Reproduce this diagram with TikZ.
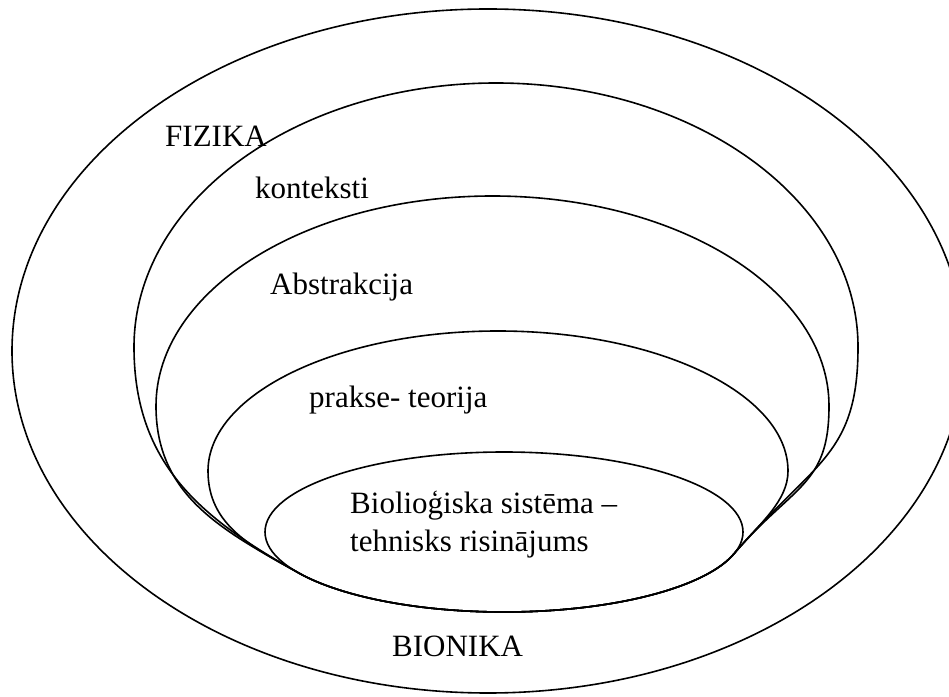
\documentclass[tikz,border=0pt]{standalone}
\usepackage{fontspec}
\setmainfont{Liberation Serif}
\begin{document}
\begin{tikzpicture}[x=1pt,y=1pt,
  ring/.style={draw=black,line width=1.6pt},
  lbl/.style={inner sep=0pt,anchor=base west,font=\rmfamily\fontsize{31}{37}\selectfont}]
\useasboundingbox (0,0) rectangle (949,696);
\clip (0,0) rectangle (949,696);

% outermost field
\draw[ring] (488,345) ellipse[x radius=476,y radius=342];

% innermost ellipse and the points where the nested shapes merge into it
\coordinate (c0) at (504,164);
\draw[ring] (c0) ellipse[x radius=239,y radius=80];
\coordinate (tl) at ([shift={(c0)}]212:239 and 80);
\coordinate (tr) at ([shift={(c0)}]344:239 and 80);

% nested egg shapes sharing the lower arc of the inner ellipse
\draw[ring] (tl) .. controls (205.3,175.2) and (134,229) .. (134,349)
  arc[start angle=180,end angle=0,x radius=362,y radius=264]
  .. controls (858,239) and (812.8,234.3) .. (tr)
  arc[start angle=344,end angle=212,x radius=239,y radius=80] -- cycle;

\draw[ring] (tl) .. controls (222.7,165.4) and (156,200) .. (156,290)
  arc[start angle=180,end angle=0,x radius=336.5,y radius=210]
  .. controls (829,210) and (793,211.2) .. (tr)
  arc[start angle=344,end angle=212,x radius=239,y radius=80] -- cycle;

\draw[ring] (tl) .. controls (253.3,148.4) and (208,170) .. (208,225)
  arc[start angle=180,end angle=0,x radius=290,y radius=140]
  .. controls (788,195) and (760.1,172.8) .. (tr)
  arc[start angle=344,end angle=212,x radius=239,y radius=80] -- cycle;

% labels
\node[lbl] (fizika) at (165,549) {FIZIKA};
\node[lbl] (konteksti) at (255,497) {konteksti};
\node[lbl] (abstr) at (270,401) {Abstrakcija};
\node[lbl] (prakse) at (309,288) {prakse- teorija};
\node[lbl] (bio1) at (350,183) {Biolioģiska sistēma –};
\node[lbl] (bio2) at (350,145) {tehnisks risinājums};
\node[lbl] (bionika) at (392,40) {BIONIKA};
\end{tikzpicture}
\end{document}
